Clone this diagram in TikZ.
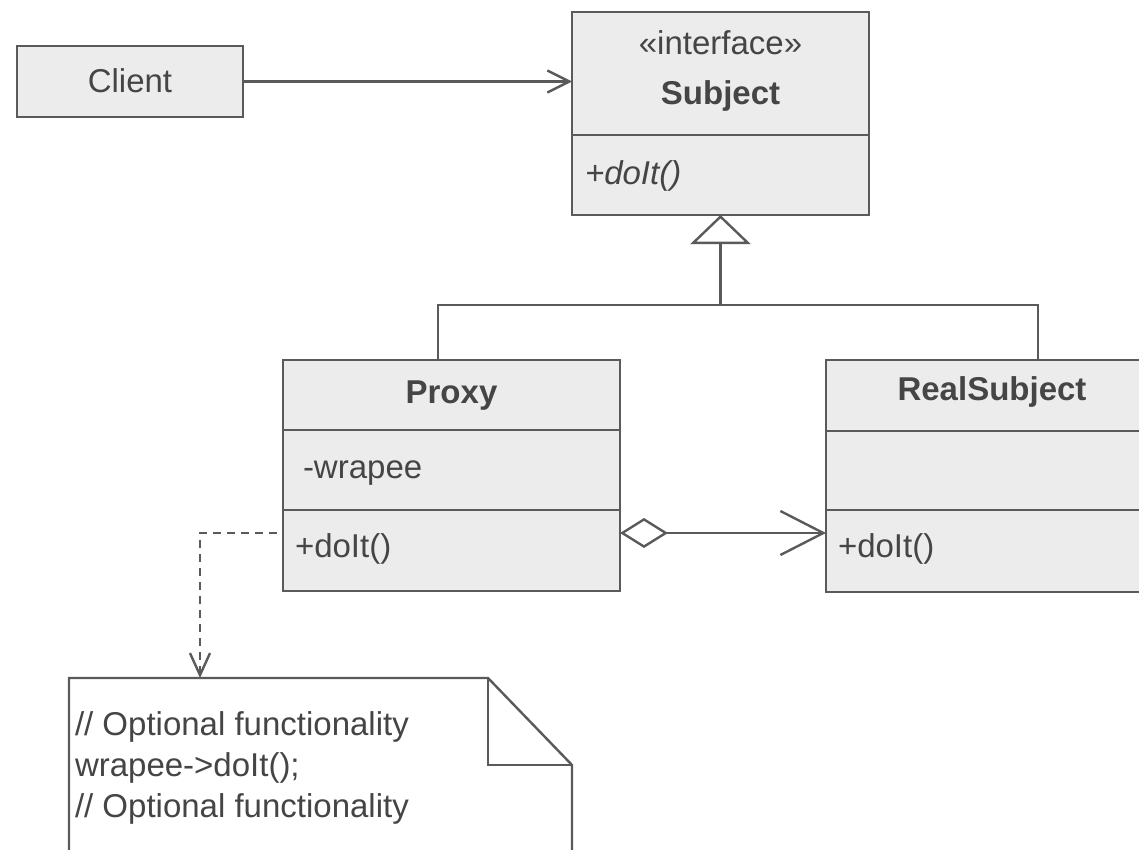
\documentclass[tikz,border=0pt]{standalone}
\usepackage{fontspec}
\setmainfont{Liberation Sans}
\usetikzlibrary{arrows.meta,calc}
\definecolor{lc}{HTML}{5A5A5A}
\definecolor{bg}{HTML}{ECECEC}
\definecolor{tc}{HTML}{454545}
\begin{document}
\begin{tikzpicture}[x=1pt,y=-1pt,
  box/.style={draw=lc, fill=bg, line width=2.4pt, inner sep=0, outer sep=0, anchor=north west},
  conn/.style={draw=lc, line width=2.4pt},
  lbl/.style={text=tc, inner sep=0, outer sep=0, font=\fontsize{33}{40}\selectfont},
  blbl/.style={lbl, font=\fontsize{33}{40}\selectfont\bfseries},
  ilbl/.style={lbl, font=\fontsize{33}{40}\selectfont\itshape},
  notebox/.style={draw=lc, fill=white, line width=2.4pt, line join=miter}
]
\useasboundingbox (0,0) rectangle (1139,850);
\clip (0,0) rectangle (1139,850);

% Client
\node[box, minimum width=226pt, minimum height=71pt] (client) at (17,46) {};
\node[lbl, anchor=base] (clientt) at (130,93) {Client};

% Subject
\node[box, minimum width=297pt, minimum height=123pt] (subjh) at (572,12) {};
\node[box, minimum width=297pt, minimum height=80pt] (subjm) at (572,135) {};
\node[lbl, anchor=base] (subjst) at (720.5,55) {«interface»};
\node[blbl, anchor=base] (subjt) at (720.5,105) {Subject};
\node[ilbl, anchor=base west] (subjop) at (585,185) {+doIt()};

% Proxy
\node[box, minimum width=337pt, minimum height=70pt] (proxyh) at (283,360) {};
\node[box, minimum width=337pt, minimum height=80pt] (proxya) at (283,430) {};
\node[box, minimum width=337pt, minimum height=81pt] (proxym) at (283,510) {};
\node[blbl, anchor=base] (proxyt) at (451.5,403) {Proxy};
\node[lbl, anchor=base west] (proxyat) at (303,478) {-wrapee};
\node[lbl, anchor=base west] (proxyop) at (295,557) {+doIt()};

% RealSubject
\node[box, minimum width=332pt, minimum height=71pt] (realh) at (826,360) {};
\node[box, minimum width=332pt, minimum height=79pt] (reala) at (826,431) {};
\node[box, minimum width=332pt, minimum height=82pt] (realm) at (826,510) {};
\node[blbl, anchor=base] (realt) at (992,400) {RealSubject};
\node[lbl, anchor=base west] (realop) at (838,557) {+doIt()};

% Note
\draw[notebox] (69,900) -- (69,678) -- (488,678) -- (572,765) -- (572,900);
\draw[notebox, fill=none] (488,678) -- (488,765) -- (572,765);
\coordinate (nt) at (200,678);
\node[lbl, anchor=base west] (n1) at (75,735) {// Optional functionality};
\node[lbl, anchor=base west] (n2) at (75,776) {wrapee->doIt();};
\node[lbl, anchor=base west] (n3) at (75,817) {// Optional functionality};

% Client -> Subject
\draw[conn, -{Straight Barb[length=22pt,width=22pt]}] (client.east) -- (client.east -| subjh.west);

% Generalization
\coordinate (j) at (720.5,305);
\coordinate (pj) at (438,360);
\coordinate (rj) at (1038,360);
\draw[conn] (pj) |- (j) -| (rj);
\draw[conn, -{Triangle[open, length=29pt, width=60pt]}] (j) -- (subjm.south);

% Aggregation
\coordinate (a1) at ($(proxym.north east)+(0,23)$);
\coordinate (a2) at ($(realm.north west)+(0,23)$);
\draw[conn, {Diamond[open, length=48pt, width=30pt]}-{Straight Barb[length=43pt, width=44pt]}] (a1) -- (a2);

% Dashed link to note
\coordinate (d0) at ($(proxym.north west)+(-6,23)$);
\draw[conn, dash pattern=on 8pt off 6pt, -{Straight Barb[length=22pt, width=20pt]}] (d0) -| (nt);
\end{tikzpicture}
\end{document}
